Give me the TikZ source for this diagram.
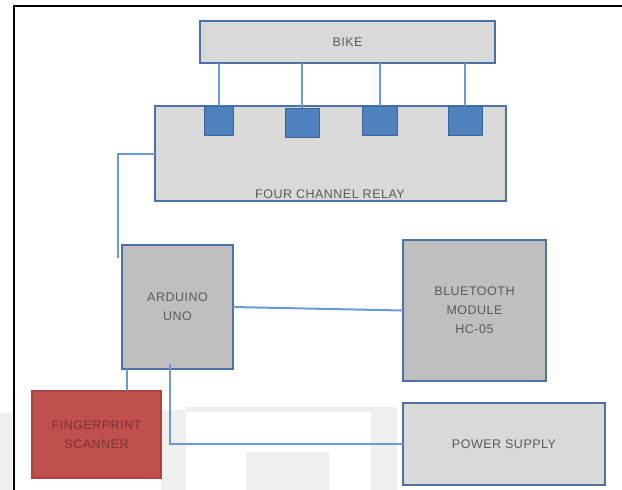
\documentclass[tikz,border=0pt]{standalone}
\usepackage{fontspec}
\newfontfamily\lblfont[LetterSpace=4]{Liberation Sans}
\definecolor{lightfill}{HTML}{D9D9D9}
\definecolor{darkfill}{HTML}{BFBFBF}
\definecolor{boxline}{HTML}{4A72A8}
\definecolor{wirecol}{HTML}{6C9AD6}
\definecolor{sqfill}{HTML}{4F81BD}
\definecolor{sqline}{HTML}{3A66A0}
\definecolor{fpfill}{HTML}{C0504D}
\definecolor{fpline}{HTML}{A84542}
\definecolor{fptext}{HTML}{7A3533}
\definecolor{txtcol}{HTML}{5A5A5A}
\definecolor{wmark}{HTML}{EFEFEF}
\tikzset{
  blk/.style={rectangle, draw=boxline, line width=1.5pt, inner sep=0pt, outer sep=0pt,
    text=txtcol, font=\lblfont\fontsize{12.5}{19}\selectfont, align=center},
  lightblk/.style={blk, fill=lightfill},
  darkblk/.style={blk, fill=darkfill},
  fpblk/.style={blk, fill=fpfill, draw=fpline, text=fptext},
  sq/.style={rectangle, draw=sqline, fill=sqfill, line width=1pt, inner sep=0pt, outer sep=0pt},
  txt/.style={inner sep=0pt, text=txtcol, font=\lblfont\fontsize{12.5}{19}\selectfont},
  wire/.style={draw=wirecol, line width=2pt},
}
\begin{document}
\begin{tikzpicture}[x=1pt,y=-1pt]
\useasboundingbox (0,0) rectangle (622,490);
% faint watermark
\fill[wmark] (0,413) rectangle (12,490);
\fill[wmark] (161,410) rectangle (186,490);
\fill[wmark] (186,407) rectangle (397,412);
\fill[wmark] (246,452) rectangle (329,490);
\fill[wmark] (371,412) rectangle (397,490);
% frame
\draw[black, line width=2pt] (14,490) -- (14,6) -- (622,6);
% blocks
\node[lightblk, minimum width=295pt, minimum height=42pt] (bike) at (347.5,42) {BIKE};
\node[lightblk, minimum width=351pt, minimum height=95pt] (relay) at (330.5,153.5) {};
\node[txt] (relaylbl) at (330,194) {FOUR CHANNEL RELAY};
\node[sq, minimum width=29pt, minimum height=29pt] (s1) at (218.5,120.5) {};
\node[sq, minimum width=34pt, minimum height=29pt] (s2) at (302,122.5) {};
\node[sq, minimum width=35pt, minimum height=29pt] (s3) at (379.5,120.5) {};
\node[sq, minimum width=34pt, minimum height=29pt] (s4) at (465,120.5) {};
\node[darkblk, minimum width=111pt, minimum height=124pt] (ard) at (177.5,307) {ARDUINO\\UNO};
\node[darkblk, minimum width=143pt, minimum height=141pt] (bt) at (474.5,310.5) {BLUETOOTH\\MODULE\\HC-05};
\node[fpblk, minimum width=129pt, minimum height=87pt] (fp) at (96.5,434.5) {FINGERPRINT\\SCANNER};
\node[lightblk, minimum width=202pt, minimum height=82pt] (ps) at (504,444) {POWER SUPPLY};
% connectors
\foreach \s in {s1,s2,s3,s4}{
  \draw[wire] (\s.north) -- (\s.north |- bike.south);
}
\coordinate (c1) at (118,258);
\draw[wire] (relay.west) -| (c1);
\draw[wire] (ard.east) -- (bt.west);
\draw[wire] ([xshift=5pt]ard.south west) -- ([xshift=5pt]ard.south west |- fp.north);
\coordinate (p0) at (170,364);
\draw[wire] (p0) |- (ps.west);
\end{tikzpicture}
\end{document}
